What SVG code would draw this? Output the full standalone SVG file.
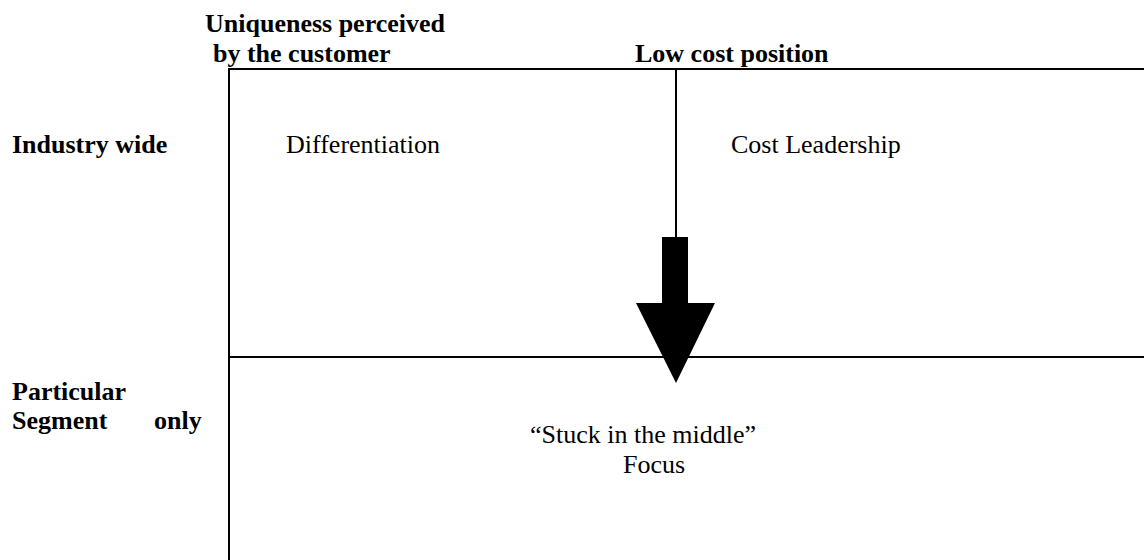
<svg xmlns="http://www.w3.org/2000/svg" width="1144" height="560" viewBox="0 0 1144 560">
  <style>
    .t { font-family: "Liberation Serif", "Times New Roman", serif; font-size: 26px; fill: #000; }
    .b { font-weight: bold; }
    .ln { stroke: #000; stroke-width: 2; fill: none; }
  </style>
  <rect width="1144" height="560" fill="#fff"/>
  <g id="grid">
    <line class="ln" x1="228" y1="69" x2="1144" y2="69"/>
    <line class="ln" x1="229" y1="68" x2="229" y2="560"/>
    <line class="ln" x1="228" y1="357" x2="1144" y2="357"/>
    <line class="ln" x1="676" y1="69" x2="676" y2="240"/>
  </g>
  <g id="header-uniqueness">
    <text class="t b" x="205" y="32">Uniqueness perceived</text>
    <text class="t b" x="213" y="62">by the customer</text>
  </g>
  <g id="header-lowcost">
    <text class="t b" x="635" y="62">Low cost position</text>
  </g>
  <g id="row-industry">
    <text class="t b" x="12" y="153">Industry wide</text>
  </g>
  <g id="row-segment">
    <text class="t b" x="12" y="400">Particular</text>
    <text class="t b" x="12" y="429">Segment</text>
    <text class="t b" x="154" y="429">only</text>
  </g>
  <g id="cell-differentiation">
    <text class="t" x="286" y="153">Differentiation</text>
  </g>
  <g id="cell-cost-leadership">
    <text class="t" x="731" y="153">Cost Leadership</text>
  </g>
  <g id="cell-focus">
    <text class="t" x="530" y="443">“Stuck in the middle”</text>
    <text class="t" x="623" y="473">Focus</text>
  </g>
  <g id="connectors">
    <polygon points="662,237 688,237 688,303 715,303 676,383 636,303 662,303" fill="#000"/>
  </g>
</svg>
